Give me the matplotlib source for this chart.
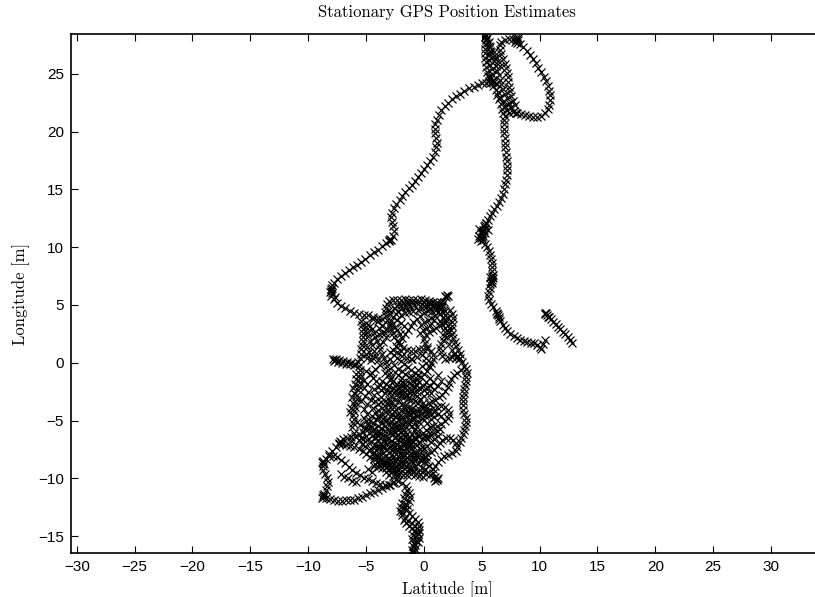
import numpy as np
import matplotlib
matplotlib.use("Agg")
import matplotlib.pyplot as plt

title = "Stationary GPS Position Estimates"
xlabel = "Latitude [m]"
ylabel = "Longitude [m]"
xticks = list(range(-30, 31, 5))
yticks = list(range(-15, 26, 5))

# GPS position estimates (latitude, longitude) [m]
tail = [(-0.92,-16.45),(-0.8,-16.15),(-0.95,-15.9),(-0.75,-15.75),(-0.65,-15.4),(-0.7,-15.05),(-0.55,-14.7),(-0.6,-14.35),
        (-0.8,-14.1),(-1.05,-13.9),(-1.35,-13.7),(-1.6,-13.45),(-1.85,-13.15),(-2.05,-12.8),(-1.95,-12.45),(-1.85,-12.1),
        (-1.7,-11.75),(-1.6,-11.4),(-1.5,-11.05),(-1.25,-11.3),(-1.2,-11.65),(-1.3,-12.0),(-1.45,-12.35),(-1.5,-12.7),
        (-1.3,-13.0),(-1.05,-13.3),(-0.8,-13.55),(-0.55,-13.8),(-0.45,-14.15),(-0.4,-14.5),(-0.5,-14.85),(-0.45,-15.2),
        (-0.55,-15.55),(-0.85,-15.6),(-1.0,-15.3),(-0.95,-14.95),(-0.85,-14.6),(-1.0,-14.3),(-1.3,-14.1),(-1.55,-13.85),
        (-1.75,-13.6),(-1.9,-12.95),(-1.7,-12.6),(-1.6,-12.25),(-0.9,-16.3),(-0.85,-16.4),(-1.0,-16.2)]

lower_lobe = [(-1.55,-10.65),(-1.85,-10.4),(-2.2,-10.25),(-2.55,-10.35),(-2.9,-10.55),(-3.25,-10.7),(-3.6,-10.85),(-3.95,-11.0),
        (-4.3,-11.15),(-4.65,-11.3),(-5.0,-11.45),(-5.35,-11.6),(-5.7,-11.75),(-6.05,-11.85),(-6.4,-11.9),(-6.75,-11.9),
        (-7.1,-11.95),(-7.45,-11.95),(-7.8,-11.9),(-8.15,-11.8),(-8.45,-11.7),(-8.7,-11.6),(-8.75,-11.45),(-8.6,-11.55),
        (-8.8,-11.7),(-8.65,-11.35),(-8.5,-11.05),(-8.35,-10.7),(-8.3,-10.35),(-8.4,-10.0),(-8.55,-9.65),(-8.7,-9.3),
        (-8.75,-8.95),(-8.7,-8.7),(-8.8,-8.6),(-8.6,-8.8),(-8.75,-8.5),(-8.5,-8.3),(-8.2,-8.1),(-7.85,-8.05),(-7.5,-8.2),
        (-7.15,-8.45),(-6.8,-8.7),(-6.5,-9.0),(-6.2,-9.3),(-5.85,-9.55),(-5.5,-9.75),(-5.15,-9.95),(-4.8,-10.1),
        (-4.45,-10.25),(-4.1,-10.4),(-3.75,-10.5),(-3.4,-10.6),(-3.05,-10.55),(-2.7,-10.4),(-7.3,-6.95),(-7.2,-6.85),
        (-7.35,-7.05),(-7.25,-6.75),(-7.6,-7.3),(-7.9,-7.6),(-8.2,-7.9),(-7.2,-9.6),(-6.9,-9.85),(-6.55,-10.0),(-6.2,-10.2),
        (-5.85,-10.35)]

core = [(-2.45,-10.1),(-2.3,-9.75),(-2.4,-9.4),(-2.65,-9.1),(-2.95,-8.85),(-3.3,-8.7),(-3.65,-8.6),(-4.0,-8.5),(-4.35,-8.35),
        (-4.7,-8.15),(-5.0,-7.9),(-5.3,-7.65),(-5.65,-7.45),(-6.0,-7.3),(-6.35,-7.2),(-6.7,-7.1),(-7.05,-7.0),(-7.0,-6.6),
        (-6.65,-6.5),(-6.3,-6.45),(-5.95,-6.35),(-5.6,-6.2),(-5.3,-6.0),(-5.05,-5.7),(-4.85,-5.35),(-4.7,-5.0),(-4.5,-4.65),
        (-4.25,-4.35),(-3.95,-4.1),(-3.6,-3.95),(-3.25,-3.85),(-2.9,-3.8),(-2.55,-3.85),(-2.2,-3.95),(-1.85,-4.1),(-1.5,-4.3),
        (-1.2,-4.55),(-0.95,-4.85),(-0.75,-5.2),(-0.6,-5.55),(-0.55,-5.9),(-0.6,-6.25),(-0.75,-6.6),(-0.95,-6.9),(-1.2,-7.2),
        (-1.5,-7.45),(-1.85,-7.6),(-2.2,-7.7),(-2.55,-7.75),(-2.9,-7.7),(-3.25,-7.55),(-3.55,-7.3),(-3.8,-7.0),(-3.95,-6.65),
        (-4.0,-6.3),(-3.9,-5.95),(-3.7,-5.65),(-3.4,-5.45),(-3.05,-5.35),(-2.7,-5.35),(-2.35,-5.45),(-2.0,-5.6),(-1.7,-5.85),
        (-1.45,-6.15),(-1.3,-6.5),(-1.25,-6.85),(-1.35,-7.2),(-1.1,-7.5),(-0.8,-7.75),(-0.45,-7.9),(-0.1,-7.95),(0.25,-7.9),
        (0.6,-7.75),(0.9,-7.55),(1.15,-7.25),(1.35,-6.95),(1.6,-6.7),(1.9,-6.55),(2.25,-6.5),(2.55,-6.65),(2.8,-6.95),
        (2.9,-7.3),(2.75,-7.6),(2.45,-7.85),(2.1,-8.0),(1.75,-8.1),(1.45,-8.3),(1.2,-8.6),(0.95,-8.9),(0.8,-9.2),(0.8,-9.55),
        (0.95,-9.85),(1.1,-10.1),(1.2,-10.0),(1.0,-10.2),(1.15,-10.15),(0.85,-9.95),(0.55,-9.75),(0.2,-9.6),(-0.15,-9.5),
        (-0.5,-9.45),(-0.85,-9.35),(-1.2,-9.2),(-1.55,-9.05),(-1.9,-8.9),(-2.25,-8.8),(-2.6,-8.7),
        (3.1,-6.85),(3.25,-6.5),(3.35,-6.15),(3.45,-5.8),(3.55,-5.45),(3.65,-5.1),(3.6,-4.75),(3.5,-4.4),(3.4,-4.05),
        (3.35,-3.7),(3.35,-3.35),(3.4,-3.0),(3.45,-2.65),(3.5,-2.3),(3.55,-1.95),(3.6,-1.6),(3.65,-1.25),(3.7,-0.9),
        (3.65,-0.55),(3.5,-0.25),(3.3,0.05),(3.05,0.3),(2.75,0.45),(2.45,0.5),(2.15,0.45),(1.85,0.3),
        (-4.3,-8.9),(-3.95,-9.0),(-3.6,-9.15),(-3.25,-9.1),(-2.9,-9.2),(-2.55,-9.3),(-2.2,-9.25),(-1.85,-9.4),(-1.5,-9.35),
        (-1.15,-9.2),(-0.8,-9.0),(-0.5,-8.8),(-0.35,-8.45),(-0.55,-8.15),(-0.9,-8.25),(-1.25,-8.35),(-1.6,-8.4),(-1.95,-8.3),
        (-2.3,-8.35),(-2.65,-8.2),(-3.0,-8.25),(-3.35,-8.1),(-3.7,-8.0),(-4.05,-7.95),(-4.4,-7.8),(-4.75,-7.55),(-5.05,-7.25),
        (-5.35,-7.0),(-5.6,-6.7),(-5.3,-6.6),(-4.95,-6.7),(-4.6,-6.85),(-4.25,-7.0),(-3.9,-7.2),(-3.55,-7.1),(-3.2,-7.0),
        (-2.85,-7.15),(-2.5,-7.3),(-2.15,-7.2),(-1.8,-7.0),(-1.45,-6.85),(-1.1,-6.7),(-0.75,-6.55),(-0.4,-6.3),(-0.1,-6.05),
        (0.2,-5.8),(0.5,-5.6),(0.8,-5.5),(1.15,-5.45),(1.5,-5.3),(1.8,-5.05),(2.05,-4.8),(2.2,-4.45),(2.1,-4.1),(1.85,-3.85),
        (1.5,-3.75),(1.15,-3.8),(0.8,-3.9),(0.45,-4.05),(0.1,-4.25),(-0.25,-4.45),(-0.6,-4.6),(-0.95,-4.75),(-1.3,-4.95),
        (-1.65,-5.1),(-2.0,-5.3),(-2.35,-5.5),(-2.7,-5.65),(-3.05,-5.8),(-3.4,-5.95),(-3.75,-6.1),(-4.1,-6.05),(-4.45,-5.9),
        (-4.8,-5.75),(-5.15,-5.55),(-5.5,-5.4),(-5.8,-5.15),(-6.0,-4.85),(-6.1,-4.5),(-6.05,-4.15),(-5.95,-3.8),(-5.85,-3.45),
        (-5.8,-3.1),(-5.75,-2.75),(-5.7,-2.4),(-5.6,-2.05),(-5.55,-1.7),(-5.5,-1.35),(-5.5,-1.0),(-5.55,-0.65),(-5.6,-0.3),
        (-5.95,-0.1),(-6.3,0.0),(-6.65,0.1),(-7.0,0.15),(-7.35,0.2),(-7.7,0.25),(-7.85,0.3),(-7.6,0.35),(-7.8,0.15),
        (-7.45,0.05),(-7.1,-0.05),(-6.75,-0.1),(-6.4,-0.15),(-6.05,-0.2),
        (3.2,-0.6),(2.9,-0.85),(2.6,-1.1),(2.35,-1.4),(2.2,-1.75),(2.05,-2.1),(1.85,-2.45),(1.6,-2.75),(1.3,-3.0),(1.0,-3.2),
        (0.7,-3.35),(0.4,-3.5),(0.1,-3.65),(-0.2,-3.6),(-0.5,-3.45),(-0.8,-3.3),(-1.1,-3.2),(-1.4,-3.15),(-1.7,-3.0),
        (-2.0,-2.85),(-2.3,-2.7),(-2.6,-2.6),(-2.9,-2.5),(-3.2,-2.35),(-3.5,-2.15),(-3.8,-1.9),(-4.1,-1.6),(-4.4,-1.3),
        (-4.7,-1.0),(-5.0,-0.7),(-0.4,-2.2),(-0.75,-2.1),(-1.1,-2.25),(-1.45,-2.4),(-1.8,-2.35),(-2.15,-2.2),(-2.5,-2.0),
        (-2.2,-0.5),(-1.9,-0.75),(-1.6,-1.0),(-1.3,-1.2),(-1.0,-1.25),(-4.6,-3.2),(-4.9,-3.6),(-5.2,-4.0),(-4.3,-2.8),
        (-3.0,-3.2),(-3.9,-4.5),(-4.4,-3.9),(-2.0,-6.4),(-2.7,-6.2),(-3.2,-6.6),(-1.7,-8.0),(-0.9,-8.7)]

core_dense = [(-4.2,-8.8),(-3.85,-8.75),(-3.5,-8.8),(-3.15,-8.95),(-2.8,-9.05),(-2.45,-9.0),(-2.1,-8.95),(-1.75,-8.75),
        (-1.4,-8.65),(-1.05,-8.5),(-0.7,-8.35),(-0.8,-8.0),(-1.15,-7.9),(-1.5,-7.85),(-1.85,-7.95),(-2.2,-8.1),(-2.55,-8.45),
        (-2.9,-8.5),(-3.25,-8.4),(-3.6,-8.3),(-3.95,-8.2),(-4.3,-8.1),(-4.6,-7.5),(-4.3,-7.35),(-3.95,-7.45),(-3.6,-7.6),
        (-3.0,-7.4),(-2.65,-7.5),(-2.3,-7.45),(-1.95,-7.3),(-1.6,-7.15),(-0.95,-7.25),(-0.6,-7.1),(-0.3,-6.85),(-0.05,-6.55),
        (0.1,-6.25),(-4.5,-6.3),(-4.2,-6.45),(-3.6,-6.4),(-3.3,-6.3),(-2.95,-6.1),(-2.6,-5.95),(-2.25,-5.85),(-1.95,-6.0),
        (-1.65,-6.3),(-1.5,-6.6),(-1.0,-6.2),(-0.85,-5.85),(-1.05,-5.5),(-1.3,-5.3),(-1.6,-5.45),(-2.45,-5.1),(-2.8,-5.0),
        (-3.15,-4.95),(-3.5,-4.9),(-3.85,-4.8),(-4.15,-4.9),(-4.4,-5.2),(-4.5,-5.55),(-4.3,-5.7),(-3.95,-5.5),(-3.6,-5.2),
        (-3.3,-5.05),(-4.0,-3.6),(-3.7,-3.4),(-3.4,-3.3),(-3.1,-3.5),(-2.8,-3.4),(-2.5,-3.25),(-2.2,-3.3),(-1.9,-3.55),
        (-1.6,-3.7),(-1.3,-3.8),(-1.0,-3.9),(-0.7,-4.1),(-0.4,-4.0),(-0.1,-3.9),(0.2,-4.0),(0.35,-4.35),(0.1,-4.6),
        (-0.2,-4.8),(-0.45,-5.1),(-3.6,-4.4),(-3.3,-4.25),(-3.0,-4.3),(-2.7,-4.5),(-2.4,-4.7),(-2.1,-4.85),(-1.8,-4.75),
        (-1.5,-4.65),(-0.6,-2.5),(-0.9,-2.6),(-1.2,-2.65),(-1.5,-2.75),(-1.8,-2.65),(-2.1,-2.5),(-2.4,-2.35),(-2.7,-2.2),
        (-3.0,-2.0),(-3.3,-1.8),(-3.6,-1.55),(-2.9,-1.5),(-2.5,-0.8),(-2.2,-1.1),(-1.9,-1.3),(-4.9,-4.4),(-5.2,-4.8),
        (-5.4,-3.3),(-5.1,-2.9),(-4.8,-2.5),(-5.2,-2.2),(-4.9,-1.8),(-5.0,-5.0),(-5.4,-6.5),(-5.0,-6.3),(-4.8,-9.2),
        (-4.5,-9.5),(-3.3,-9.5),(-3.0,-9.7),(-0.2,-7.3),(0.3,-7.2),(0.6,-6.9),(0.9,-6.6),(1.2,-6.3),(0.9,-4.7),(1.2,-4.4),
        (1.5,-4.6),(0.6,-2.6),(0.9,-2.3),(1.2,-2.0),(1.5,-1.6),(1.2,-1.1),(0.0,-2.4),(0.3,-2.1)]

core_fill = [(-6.2,-6.8),(-6.0,-6.1),(-6.25,-5.6),(-6.1,-5.2),(-6.4,-4.3),(-6.3,-3.9),(-6.15,-3.5),(-6.2,-3.0),
        (-6.05,-2.6),(-6.1,-2.2),(-5.95,-1.8),(-5.9,-1.4),(-5.9,-1.0),(-5.2,-1.5),(-4.9,0.4),(-5.0,0.8),(-4.75,0.9),
        (-4.65,1.9),(-4.85,2.3),(-4.95,2.7),(-5.0,3.1),(-4.5,0.5),(-4.3,1.0),(-4.5,1.5),(-4.0,0.2),(-3.8,-0.2),(-4.2,-0.5),
        (-4.5,-0.9),(-3.9,2.5),(-3.6,3.2),(-3.4,2.6),
        (-2.8,-9.5),(-2.5,-9.6),(-2.15,-9.6),(-1.8,-9.75),(-1.45,-9.7),(-1.1,-9.6),(-0.75,-9.7),(-0.4,-9.8),(-0.1,-9.85),
        (0.1,-9.2),(-0.2,-9.1),(0.0,-8.6),(0.3,-8.5),(0.45,-8.9),(0.2,-8.2),(-0.1,-8.3),(-2.0,-8.6),(-1.3,-8.0),(-2.45,-7.0),
        (-2.8,-6.8),(-2.2,-6.6),(-1.9,-6.7),(-2.5,-6.55),(-3.5,-6.8),(-3.0,-6.5),(-1.6,-6.0),(-2.3,-6.25),(-0.3,-7.5),
        (0.0,-7.4),(0.4,-6.4),(0.5,-6.05),(0.2,-6.5),(0.8,-6.1),(1.1,-5.9),(1.4,-5.7),
        (-2.9,-4.6),(-2.6,-4.2),(-2.3,-4.4),(-1.95,-4.5),(-1.6,-4.0),(-1.3,-4.25),(-1.0,-4.3),(-0.7,-4.45),(0.0,-4.95),
        (0.3,-5.2),(0.6,-4.9),(0.85,-4.3),(0.6,-4.4),(-3.7,-3.0),(-4.25,-3.35),(-4.3,-2.3),(-4.0,-2.1),(-3.7,-2.4),
        (-3.4,-2.6),(-2.8,-2.9),(-1.9,-1.7),(-1.6,-2.1),(-1.0,-1.9),(-0.7,-1.8),(-0.4,-1.7),(-0.1,-2.0),(0.2,-1.7),
        (0.5,-1.3),(0.75,-1.65),(0.5,-2.0),(0.3,-2.6),(0.0,-2.9),(-0.3,-3.1),(-0.6,-2.9),(-0.2,-0.3),(-0.5,-0.6),
        (0.2,0.0),(0.4,-0.3),(-1.9,0.6),(-1.5,0.45),(-1.1,0.35),(-2.3,0.9),(-2.0,1.0),
        (-2.6,4.7),(-2.3,4.9),(-2.0,5.0),(-1.7,5.15),(-1.35,5.2),(-1.0,5.25),(0.0,5.25),(0.4,5.15),(1.1,5.1),(1.4,4.2),
        (1.6,4.45),(1.65,3.9),(1.55,3.35),(2.1,3.9),(2.1,3.3),(2.1,2.7),(2.0,2.2),(2.2,1.6),(2.4,1.1),(2.6,0.8),(2.9,0.6),
        (0.9,3.7),(0.55,3.3),(0.3,3.0),(-0.05,2.8),(-0.35,2.6)]

upper = [(-5.7,0.1),(-5.55,0.45),(-5.45,0.8),(-5.4,1.15),(-5.35,1.5),(-5.3,1.85),(-5.25,2.2),(-5.25,2.55),(-5.3,2.9),
        (-5.35,3.25),(-5.45,3.6),(-5.0,3.45),(-4.7,3.2),(-4.5,2.9),(-4.35,2.55),(-4.2,2.2),(-4.05,1.85),(-3.9,1.5),
        (-3.75,1.15),(-3.6,0.8),(-3.45,0.45),(-3.3,0.1),(-3.2,-0.25),(-3.1,-0.6),(-3.0,-0.95),(-2.85,-1.3),(-2.65,-1.6),
        (-2.35,-1.8),(-2.0,-1.9),(-1.65,-1.85),(-1.3,-1.75),(-0.95,-1.6),(-0.6,-1.45),(-0.25,-1.25),(0.05,-1.0),(0.3,-0.7),
        (0.5,-0.35),(0.65,0.0),(0.75,0.35),(0.8,0.7),(0.6,1.0),(0.3,1.15),(-0.05,1.2),(-0.4,1.15),(-0.75,1.05),(-1.1,1.0),
        (-1.45,1.1),(-1.8,1.3),(-2.1,1.55),(-2.35,1.85),(-2.55,2.2),(-2.7,2.55),(-2.8,2.9),(-2.85,3.25),(-2.8,3.6),
        (-2.65,3.95),(-2.45,4.25),(-2.2,4.5),(-1.9,4.7),(-1.55,4.85),(-1.2,4.95),(-0.85,5.0),(-0.5,5.05),(-0.15,5.1),
        (0.2,5.1),(0.55,5.05),(0.9,5.0),(1.25,4.95),(1.55,4.8),(-2.65,1.1),(-2.4,1.45),(-2.15,1.8),(-1.9,2.15),(-1.65,2.5),
        (-1.4,2.85),(-1.15,3.2),(-0.9,3.5),(-0.6,3.8),(-0.3,4.05),(0.0,4.3),(0.35,4.45),(0.7,4.5),(1.05,4.55),(1.35,4.7),
        (1.6,5.0),(1.75,5.3),(1.9,5.65),(2.0,5.9),(2.05,5.8),(1.85,5.75),(1.5,5.3),(1.15,5.25),(0.8,5.3),(0.45,5.35),
        (0.1,5.45),(-0.25,5.5),(-0.6,5.45),(-0.95,5.4),(-1.3,5.45),(-1.65,5.5),(-2.0,5.45),(-2.35,5.4),(-2.7,5.45),
        (-3.0,5.35),(-3.2,5.1),(-3.3,4.75),(-3.35,4.4),(-3.3,4.05),(2.3,4.6),(2.45,4.25),(2.5,3.9),(2.45,3.55),(2.4,3.2),
        (2.35,2.85),(2.4,2.5),(2.5,2.15),(2.65,1.8),(2.8,1.45),(2.95,1.1),(3.1,0.75),(3.15,0.4),(1.4,3.65),(1.3,3.3),
        (1.05,3.05),(0.75,2.85),(0.45,2.65),(0.2,2.4),(0.05,2.05),(0.1,1.7),(0.3,1.4),(1.6,0.6),(1.45,0.95),(1.4,1.3),
        (1.5,1.65),(1.65,2.0),(1.75,2.35),(1.8,2.7),(1.85,3.05),(1.85,3.4),(1.85,3.75),(1.85,4.1),(1.8,4.45),(-2.9,0.9),
        (-2.6,0.65),(-2.3,0.4),(-2.0,0.15),(-1.7,-0.1),(-1.4,-0.35),(-1.1,-0.6),(-0.8,-0.85),(-0.5,-1.05),(-3.9,3.0),
        (-3.6,2.6),(-3.3,2.2),(-4.1,0.6),(-4.6,0.2),(-4.9,1.4),
        (-2.5,3.1),(-2.3,2.8),(-2.1,2.45),(-2.0,3.4),(-1.7,3.2),(-2.3,3.7),(-2.0,4.1),(-1.6,4.3),(-1.25,4.4),(-0.9,4.5),
        (-0.55,4.6),(-0.2,4.7),(0.15,4.8),(0.5,4.75),(0.85,4.8),(1.2,4.4),(0.95,4.05),(0.65,3.85),(0.35,3.7),(0.05,3.55),
        (-0.25,3.3),(-3.0,4.6),(-2.9,4.2),(-3.05,3.3),(-3.2,2.9),(-2.6,-0.2),(-2.9,0.3),(-3.4,-0.9),(-3.5,1.8),
        (-4.0,3.6),(-4.4,3.8),(-1.0,0.3),(-0.6,0.5),(-0.2,0.7),(0.2,0.4)]

left_arm = [(-3.2,3.7),(-3.6,3.8),(-4.0,3.9),(-4.4,4.0),(-4.8,4.1),(-5.2,4.15),(-5.6,4.2),(-6.0,4.35),(-6.4,4.5),
        (-6.8,4.7),(-7.2,4.9),(-7.5,5.2),(-7.8,5.5),(-8.0,5.8),(-8.1,6.1),(-8.0,6.4),(-7.9,6.7),(-7.8,6.9),(-7.9,6.5),
        (-8.0,6.2),(-7.9,6.0),(-7.7,5.7),(-7.5,7.25),(-7.15,7.5),(-6.8,7.75),(-6.45,8.0),(-6.1,8.25),(-5.75,8.5),
        (-5.4,8.75),(-5.05,9.0),(-4.7,9.3),(-4.35,9.55),(-4.0,9.8),(-3.65,10.1),(-3.3,10.35),(-3.0,10.6),(-2.9,10.7),
        (-2.8,10.6),(-3.05,10.5),(-2.7,11.0),(-2.6,11.4),(-2.65,11.8),(-2.75,12.2),(-2.8,12.6),
        (-2.75,13.0),(-2.6,13.4),(-2.4,13.7),(-2.1,14.05),(-1.85,14.4),(-1.6,14.75),(-1.3,15.1),(-1.05,15.4),(-0.8,15.75),
        (-0.5,16.1),(-0.25,16.45),(0.0,16.8),(0.25,17.15),(0.5,17.5),(0.75,17.85),(0.95,18.25),(1.05,18.65),(1.1,19.05),
        (1.05,19.45),(1.0,19.85),(0.95,20.25),(1.0,20.65),(1.15,21.05),(1.3,21.45),(1.5,21.85),(1.8,22.2),(2.1,22.5),
        (2.45,22.8),(2.8,23.05),(3.15,23.3),(3.5,23.55),(3.9,23.75),(4.3,23.9),(4.7,24.05),(5.05,24.2),(5.35,24.25),
        (5.6,24.4),(5.85,24.3),(5.7,24.55),(5.95,24.5),(5.75,24.2)]

top_tangle = [(5.5,24.8),(5.45,25.2),(5.4,25.6),(5.35,26.0),(5.3,26.4),(5.3,26.8),(5.25,27.2),(5.3,27.6),(5.35,28.0),
        (5.4,28.35),(5.3,28.2),(5.45,28.1),(5.35,27.9),(5.55,27.7),(5.7,27.3),(5.8,26.9),(5.95,26.5),(6.05,26.1),
        (6.2,25.7),(6.3,25.3),(6.45,24.9),(6.55,24.5),(6.7,24.1),(6.85,23.7),(7.0,23.3),(7.2,22.9),(7.35,22.5),(7.55,22.1),
        (7.8,21.8),(8.0,21.6),(7.9,22.3),(7.7,22.7),(7.55,23.1),(7.45,23.5),(7.35,23.9),(7.3,24.3),(7.25,24.7),(7.2,25.1),
        (7.1,25.5),(7.0,25.9),(6.85,26.3),(6.7,26.7),(6.6,27.1),(6.55,27.5),(6.7,27.8),(7.0,27.95),(7.35,28.0),(7.7,28.0),
        (8.0,27.95),(8.1,28.1),(7.9,27.8),(8.05,27.7),(8.15,27.9),(7.95,28.15),(8.3,27.6),(8.6,27.3),(8.9,27.0),(9.15,26.65),
        (9.4,26.3),(9.65,25.95),(9.9,25.55),(10.15,25.15),(10.35,24.75),(10.55,24.35),(10.7,23.95),(10.85,23.55),
        (10.9,23.15),(10.9,22.75),(10.85,22.35),(10.7,21.95),(10.45,21.6),(10.15,21.35),(9.8,21.3),(9.45,21.3),(9.1,21.35),
        (8.75,21.45),(8.4,21.5),(8.05,21.65),(7.7,21.7),(7.35,21.65),(7.05,21.4),(6.0,24.0),(6.2,23.6),(6.35,23.2),
        (6.5,22.8),(6.65,22.4),(6.75,22.0),(6.85,21.6),(6.1,24.3),(6.3,24.1),
        (5.6,27.8),(5.65,27.4),(5.7,27.0),(5.6,26.6),(5.65,26.2),(5.75,25.8),(5.85,25.4),(5.9,25.0),(5.75,24.75),
        (6.4,23.4),(6.6,23.0),(6.8,22.6),(7.0,22.2),(7.15,21.85),(7.3,22.3),(6.1,26.9),(6.25,26.5),(6.4,26.1),(6.55,25.7)]

right_arm = [(6.9,21.05),(6.9,20.65),(6.95,20.25),(6.95,19.85),(7.0,19.45),(7.0,19.05),(7.05,18.65),(7.1,18.25),
        (7.1,17.85),(7.15,17.45),(7.15,17.05),(7.2,16.65),(7.15,16.25),(7.1,15.85),(7.0,15.45),(6.95,15.05),(6.85,14.65),
        (6.7,14.3),(6.5,13.95),(6.3,13.6),(6.1,13.3),(5.9,13.0),(5.7,12.7),(5.5,12.4),(5.35,12.1),(5.2,11.8),(5.1,11.5),
        (5.0,11.2),(5.0,10.9),(5.1,10.6),(5.2,11.5),(4.9,11.2),(5.15,11.0),(5.0,11.4),(5.3,11.7),(4.95,10.8),(5.25,11.9),
        (5.4,12.1),(4.8,11.0),(4.7,10.7),(4.9,10.5),(5.3,11.2),(4.8,11.6),(5.5,11.5),
        (5.3,10.3),(5.45,10.0),(5.6,9.65),(5.7,9.3),(5.8,8.95),(5.85,8.6),(5.85,8.25),(5.85,7.9),(5.85,7.55),
        (5.85,7.2),(5.8,7.0),(5.95,7.3),(5.75,7.4),(5.9,6.9),(5.8,7.1),(5.95,7.6),(5.75,6.8),(5.7,6.45),(5.6,6.1),
        (5.55,5.75),(5.6,5.4),(5.8,5.1),(6.0,4.8),(6.2,4.5),(6.35,4.2),(6.45,4.0),(6.3,4.3),(6.5,3.8),(6.4,4.1),(6.6,3.6),
        (6.8,3.3),(7.0,3.0),(7.2,2.75),(7.45,2.5),(7.75,2.3),(8.05,2.15),(8.35,2.0),(8.65,1.9),(8.95,1.8),(9.25,1.7),
        (9.5,1.75),(9.8,1.55),(10.05,1.35),(10.1,1.2),(10.3,1.6),(10.45,2.0)]

far_segment = [(10.45,4.3),(10.5,4.2),(10.55,4.35),(10.7,4.0),(10.6,4.15),(10.8,3.95),(11.0,3.75),(11.2,3.55),
        (11.4,3.35),(11.6,3.1),(11.8,2.9),(12.0,2.7),(12.2,2.45),(12.45,2.2),(12.65,1.95),(12.8,1.75)]

segments = [tail, lower_lobe, core, core_dense, core_fill, upper, left_arm, top_tangle, right_arm, far_segment]
pts = np.array([p for seg in segments for p in seg])

W, H = 815, 597
AX_W = 752
fig = plt.figure(figsize=(W / 100, H / 100), dpi=100)
ax = fig.add_axes([71 / W, (H - 553) / H, AX_W / W, (553 - 34) / H])

ax.plot(pts[:, 0], pts[:, 1], linestyle="none", marker="x", markersize=5.5,
        markeredgewidth=0.85, color="black")

ax.set_xlim(-30.5, -30.5 + AX_W / 11.57)
ax.set_ylim(-16.47, 28.46)
ax.set_xticks(xticks)
ax.set_yticks(yticks)
ax.tick_params(direction="in", top=True, right=False, length=5, width=0.8,
               labelsize=11, pad=5)
for lab in ax.get_xticklabels() + ax.get_yticklabels():
    lab.set_fontfamily("Liberation Sans")
for sp in ax.spines.values():
    sp.set_linewidth(1.2)

ax.set_title(title, fontfamily="cmr10", fontsize=12, pad=12)
ax.set_xlabel(xlabel, fontfamily="cmr10", fontsize=12, labelpad=5)
ax.set_ylabel(ylabel, fontfamily="cmr10", fontsize=12, labelpad=6)

fig.savefig("out.png", dpi=100)
